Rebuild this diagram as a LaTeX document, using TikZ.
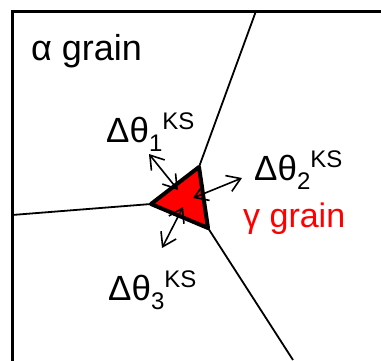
\documentclass[tikz,border=0pt]{standalone}
\usepackage{fontspec}
\setmainfont{Liberation Sans}
\usetikzlibrary{arrows.meta}
\definecolor{gam}{RGB}{255,0,0}
\tikzset{
  frame/.style={line width=3pt,line cap=rect},
  gb/.style={line width=1.8pt},
  tri/.style={draw=black,fill=gam,line width=4pt,line join=round},
  ks/.style={{Straight Barb[length=13pt,width=17pt]}-{Straight Barb[length=13pt,width=17pt]},line width=1.6pt},
  lab/.style={font=\fontsize{35}{40}\selectfont,inner sep=0pt,anchor=base west},
}
\newcommand{\lo}[1]{\raisebox{-9pt}{\fontsize{24}{24}\selectfont #1}}
\newcommand{\hi}[1]{\raisebox{13pt}{\fontsize{24}{24}\selectfont #1}}

\begin{document}
\begin{tikzpicture}[x=1pt,y=-1pt]
\useasboundingbox (0,0) rectangle (381,360);
% ---- frame of the alpha grain ----
\coordinate (fTL) at (12,11);
\coordinate (fTR) at (381,11);
\coordinate (fBL) at (12,360);
\draw[frame] (fBL) -- (fTL) -- (fTR);
% ---- triple junction with the gamma grain ----
\coordinate (vT) at (199,167);
\coordinate (vL) at (151,204);
\coordinate (vR) at (208,228);
\coordinate (eT) at (256,11);
\coordinate (eL) at (12,215);
\coordinate (eB) at (293,360);
\draw[gb] (vT) -- (eT);
\draw[gb] (vL) -- (eL);
\draw[gb] (vR) -- (eB);
\draw[tri] (vT) -- (vL) -- (vR) -- cycle;
% ---- misorientation arrows ----
\coordinate (a1o) at (149,154); \coordinate (a1i) at (178,190);
\coordinate (a2o) at (242,178); \coordinate (a2i) at (193,198);
\coordinate (a3o) at (162,248); \coordinate (a3i) at (183,207);
\draw[ks] (a1o) -- (a1i);
\draw[ks] (a2o) -- (a2i);
\draw[ks] (a3o) -- (a3i);
% ---- labels ----
\node[lab,font=\fontsize{36}{40}\selectfont] (alpha) at (31,60) {α grain};
\node[lab,text=gam,font=\fontsize{34}{40}\selectfont] (gamma) at (243,227) {γ grain};
\node[lab] (d1) at (106,142) {Δθ\lo{1}\hi{KS}};
\node[lab] (d2) at (254,180) {Δθ\lo{2}\hi{KS}};
\node[lab] (d3) at (108,300) {Δθ\lo{3}\hi{KS}};
\end{tikzpicture}
\end{document}
